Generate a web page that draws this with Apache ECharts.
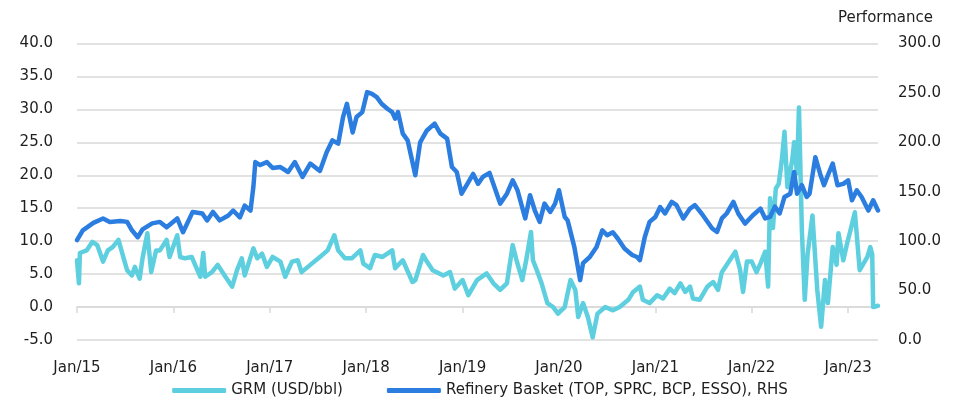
<!DOCTYPE html>
<html lang="en">
<head>
    <meta charset="UTF-8">
    <title>GRM vs Refinery Basket</title>
    <script src="https://cdn.jsdelivr.net/npm/echarts@6.0.0/dist/echarts.min.js"></script>
</head>
<style>
    *{
        margin: 0;
        padding: 0;
    }
    html,body{
        width: 100%;
        height: 100%;
        overflow: hidden;
        background: #fff;
    }
    .container{
        width: 960px;
        height: 407px;
    }
</style>
<body>
<div class="container"></div>
<script>
    // x = decimal year
    let grmData = [
        [2015.00, 7.1], [2015.02, 3.6], [2015.03, 8.2], [2015.10, 8.6], [2015.16, 9.9], [2015.21, 9.4],
        [2015.27, 6.9], [2015.32, 8.6], [2015.37, 9.1], [2015.43, 10.2], [2015.48, 7.6], [2015.52, 5.6],
        [2015.57, 4.8], [2015.60, 6.1], [2015.65, 4.3], [2015.68, 7.4], [2015.73, 11.2], [2015.77, 5.3],
        [2015.82, 8.6], [2015.86, 8.6], [2015.93, 10.2], [2015.96, 7.6], [2016.04, 10.9], [2016.07, 7.6],
        [2016.12, 7.4], [2016.19, 7.6], [2016.24, 5.9], [2016.28, 4.6], [2016.31, 8.2], [2016.33, 4.6],
        [2016.40, 5.3], [2016.46, 6.4], [2016.54, 4.6], [2016.61, 3.1], [2016.66, 5.6], [2016.71, 7.4],
        [2016.74, 4.8], [2016.83, 8.9], [2016.87, 7.4], [2016.92, 8.1], [2016.97, 6.1], [2017.03, 7.6],
        [2017.11, 6.9], [2017.16, 4.6], [2017.23, 6.9], [2017.29, 7.1], [2017.33, 5.3], [2017.42, 6.4],
        [2017.52, 7.6], [2017.60, 8.6], [2017.67, 10.9], [2017.71, 8.6], [2017.78, 7.4], [2017.85, 7.4],
        [2017.94, 8.6], [2017.97, 6.6], [2018.04, 5.9], [2018.09, 7.9], [2018.17, 7.6], [2018.27, 8.6],
        [2018.30, 5.9], [2018.38, 7.1], [2018.48, 3.8], [2018.51, 4.1], [2018.59, 7.9], [2018.63, 6.9],
        [2018.69, 5.6], [2018.80, 4.8], [2018.87, 5.3], [2018.92, 2.8], [2019.00, 4.1], [2019.06, 1.8],
        [2019.15, 4.1], [2019.25, 5.1], [2019.32, 3.6], [2019.39, 2.6], [2019.46, 3.6], [2019.52, 9.4],
        [2019.56, 7.1], [2019.62, 4.1], [2019.66, 7.1], [2019.71, 11.4], [2019.73, 7.1], [2019.77, 5.6],
        [2019.82, 3.6], [2019.88, 0.6], [2019.94, 0.0], [2019.99, -1.0], [2020.06, 0.0], [2020.12, 4.1],
        [2020.17, 2.6], [2020.20, -1.5], [2020.25, 0.6], [2020.30, -1.5], [2020.35, -4.6], [2020.40, -1.0],
        [2020.48, 0.0], [2020.56, -0.5], [2020.63, 0.0], [2020.72, 1.1], [2020.77, 2.3], [2020.84, 3.1],
        [2020.87, 1.1], [2020.94, 0.6], [2021.02, 1.8], [2021.08, 1.3], [2021.15, 2.8], [2021.20, 2.1],
        [2021.26, 3.6], [2021.31, 2.3], [2021.36, 3.1], [2021.39, 1.3], [2021.46, 1.1], [2021.54, 3.1],
        [2021.60, 3.8], [2021.65, 2.6], [2021.69, 5.3], [2021.75, 6.6], [2021.83, 8.4], [2021.88, 5.6],
        [2021.91, 2.3], [2021.95, 6.9], [2022.00, 6.9], [2022.05, 5.3], [2022.09, 6.6], [2022.14, 8.4],
        [2022.17, 3.1], [2022.19, 16.5], [2022.22, 12.0], [2022.25, 18.0], [2022.28, 18.7], [2022.31, 22.0],
        [2022.34, 26.6], [2022.37, 18.2], [2022.42, 22.3], [2022.44, 25.0], [2022.47, 20.3], [2022.49, 30.3],
        [2022.52, 11.7], [2022.55, 1.1], [2022.58, 8.1], [2022.63, 13.9], [2022.68, 2.6], [2022.72, -3.0],
        [2022.76, 4.1], [2022.79, 0.6], [2022.84, 9.1], [2022.88, 6.4], [2022.90, 11.2], [2022.95, 7.1],
        [2022.99, 9.7], [2023.02, 11.4], [2023.07, 14.4], [2023.12, 5.6], [2023.20, 7.6], [2023.23, 9.1],
        [2023.25, 8.0], [2023.26, 0.0], [2023.31, 0.2]
    ];

    let basketData = [
        [2015.00, 101], [2015.06, 111], [2015.17, 118.5], [2015.27, 123], [2015.34, 119.5], [2015.45, 120.5],
        [2015.52, 119.5], [2015.57, 111], [2015.63, 104], [2015.68, 112], [2015.78, 118], [2015.86, 119.5],
        [2015.93, 114], [2016.04, 123], [2016.10, 109], [2016.20, 129.6], [2016.30, 128], [2016.35, 121],
        [2016.41, 129.6], [2016.48, 121], [2016.57, 126], [2016.62, 131], [2016.69, 124], [2016.74, 136],
        [2016.80, 131], [2016.83, 155], [2016.85, 180], [2016.90, 177], [2016.97, 180], [2017.03, 174],
        [2017.11, 175], [2017.19, 170], [2017.26, 180], [2017.34, 165], [2017.42, 178.5], [2017.52, 171],
        [2017.59, 190], [2017.65, 202], [2017.71, 198.7], [2017.76, 225.6], [2017.80, 239], [2017.86, 210],
        [2017.90, 225.6], [2017.96, 230.6], [2018.01, 250.8], [2018.06, 249], [2018.11, 245.8], [2018.16, 239],
        [2018.22, 234], [2018.27, 230.6], [2018.30, 224], [2018.33, 230.6], [2018.38, 208.8], [2018.43, 202],
        [2018.51, 166.7], [2018.56, 200], [2018.63, 212], [2018.71, 219], [2018.77, 208.8], [2018.84, 203.7],
        [2018.89, 175], [2018.94, 170], [2018.99, 148], [2019.05, 158], [2019.11, 168], [2019.16, 158],
        [2019.21, 165], [2019.28, 169], [2019.39, 138], [2019.46, 148], [2019.52, 161.6], [2019.57, 151.5],
        [2019.65, 123], [2019.70, 146.5], [2019.75, 131], [2019.80, 119.5], [2019.85, 138], [2019.91, 129.6],
        [2019.96, 138], [2020.00, 151.5], [2020.06, 124.5], [2020.09, 121], [2020.16, 94], [2020.22, 60.6],
        [2020.25, 77.8], [2020.32, 84], [2020.39, 94], [2020.45, 111], [2020.50, 106], [2020.56, 109],
        [2020.61, 102.7], [2020.68, 92.6], [2020.76, 86], [2020.81, 84], [2020.84, 80.8], [2020.89, 104],
        [2020.94, 119.5], [2021.00, 124.5], [2021.05, 134.6], [2021.10, 128], [2021.17, 139.7], [2021.22, 136.4],
        [2021.29, 123], [2021.36, 133], [2021.41, 136.4], [2021.48, 128], [2021.59, 112.8], [2021.64, 109.4],
        [2021.69, 123], [2021.74, 128], [2021.81, 139.7], [2021.86, 128], [2021.93, 117.8], [2022.01, 126],
        [2022.09, 133], [2022.14, 123], [2022.19, 124.5], [2022.24, 135], [2022.29, 128], [2022.34, 144.7],
        [2022.40, 148], [2022.44, 170], [2022.47, 148], [2022.52, 156.6], [2022.57, 144.7], [2022.60, 148],
        [2022.66, 185], [2022.71, 168], [2022.75, 156.6], [2022.79, 166.7], [2022.84, 178.5], [2022.89, 156.6],
        [2022.95, 158], [2023.00, 161.6], [2023.04, 141.4], [2023.09, 151.5], [2023.14, 144.7], [2023.21, 131],
        [2023.26, 141.4], [2023.31, 131]
    ];

    let years = [2015, 2016, 2017, 2018, 2019, 2020, 2021, 2022, 2023];
    let seriesNames = ['GRM (USD/bbl)', 'Refinery Basket (TOP, SPRC, BCP, ESSO), RHS'];

    let gridGrey = '#d9d9d9';
    let textColor = '#1e1e1e';
    let fontFamily = 'DejaVu Sans';

    let container = document.querySelector('.container');
    let mycharts = echarts.init(container);

    let options = {
        animation: false,
        textStyle: {fontFamily: fontFamily},
        title: {
            text: 'Performance',
            right: 22,
            top: 6,
            textStyle: {color: textColor, fontSize: 15, fontWeight: 'normal', fontFamily: fontFamily}
        },
        grid: {left: 77, right: 82, top: 43.5, bottom: 67},
        legend: {
            data: seriesNames,
            bottom: 4,
            itemWidth: 54,
            itemHeight: 5,
            itemGap: 44,
            icon: 'roundRect',
            textStyle: {color: textColor, fontSize: 15, fontFamily: fontFamily}
        },
        xAxis: [
            {
                type: 'value',
                min: 2015,
                max: 2023.31,
                interval: 1,
                axisLine: {show: false, onZero: false},
                axisTick: {show: false},
                splitLine: {show: false},
                axisLabel: {
                    customValues: years,
                    margin: 21,
                    color: textColor,
                    fontSize: 15,
                    formatter: v => 'Jan/' + String(Math.round(v)).slice(2)
                }
            },
            {
                type: 'value',
                min: 2015,
                max: 2023.31,
                interval: 1,
                position: 'bottom',
                axisLine: {show: true, onZero: true, onZeroAxisIndex: 0, lineStyle: {color: gridGrey, width: 1.5}},
                axisTick: {show: true, customValues: years, length: 6, lineStyle: {color: gridGrey, width: 1.5}},
                axisLabel: {show: false},
                splitLine: {show: false}
            }
        ],
        yAxis: [
            {
                type: 'value',
                min: -5,
                max: 40,
                interval: 5,
                axisLine: {show: false},
                axisTick: {show: false},
                splitLine: {lineStyle: {color: gridGrey, width: 1.5}},
                axisLabel: {color: textColor, fontSize: 15, margin: 24, formatter: v => v.toFixed(1)}
            },
            {
                type: 'value',
                min: 0,
                max: 300,
                interval: 50,
                position: 'right',
                axisLine: {show: false},
                axisTick: {show: false},
                splitLine: {show: false},
                axisLabel: {color: textColor, fontSize: 15, margin: 20, formatter: v => v.toFixed(1)}
            }
        ],
        series: [
            {
                name: seriesNames[0],
                type: 'line',
                xAxisIndex: 0,
                yAxisIndex: 0,
                data: grmData,
                showSymbol: false,
                color: '#5dcfdf',
                lineStyle: {width: 4.5, color: '#5dcfdf', cap: 'round', join: 'round'}
            },
            {
                name: seriesNames[1],
                type: 'line',
                xAxisIndex: 0,
                yAxisIndex: 1,
                data: basketData,
                showSymbol: false,
                color: '#2b7de0',
                lineStyle: {width: 4.5, color: '#2b7de0', cap: 'round', join: 'round'}
            }
        ]
    };

    mycharts.setOption(options);
</script>
</body>
</html>
